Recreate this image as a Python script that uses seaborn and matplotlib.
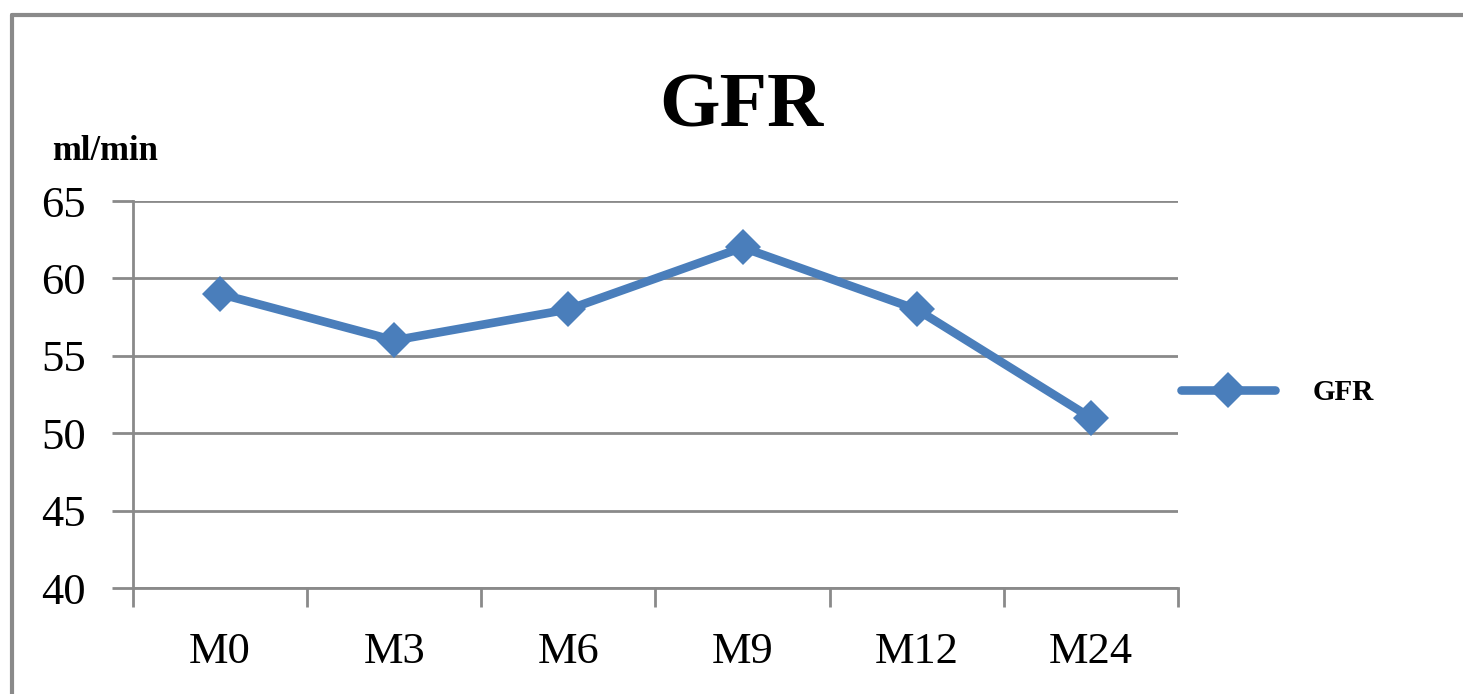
import matplotlib
matplotlib.use("Agg")
import matplotlib.pyplot as plt
import seaborn as sns
from matplotlib.lines import Line2D
from matplotlib.ticker import FixedLocator

months = ["M0", "M3", "M6", "M9", "M12", "M24"]
gfr = [59, 56, 58, 62, 58, 51]
y_ticks = [40, 45, 50, 55, 60, 65]

sns.set_style("white")
plt.rcParams["font.family"] = ["Liberation Serif", "DejaVu Serif"]
plt.rcParams["text.color"] = "black"
plt.rcParams["xtick.labelcolor"] = "black"
plt.rcParams["ytick.labelcolor"] = "black"

blue = "#4a7ebb"
grey = "#8a8a8a"

fig = plt.figure(figsize=(14.63, 6.94), dpi=100)
ax = fig.add_axes([0.0909, 0.1527, 0.7143, 0.5576])

sns.lineplot(x=months, y=gfr, ax=ax, color=blue, linewidth=6.2, marker="D",
             markersize=18, markeredgewidth=0, label="GFR", sort=False)

ax.set_xlim(-0.5, 5.5)
ax.set_ylim(40, 65)
ax.set_yticks(y_ticks)
ax.yaxis.grid(True, color=grey, linewidth=2)
ax.set_axisbelow(True)
ax.set_xticks(range(len(months)))
ax.set_xticklabels(months)
ax.xaxis.set_minor_locator(FixedLocator([i - 0.5 for i in range(len(months) + 1)]))
ax.tick_params(axis="x", which="major", length=0, pad=32, labelsize=32)
ax.tick_params(axis="x", which="minor", length=14, width=2, color=grey, direction="out", bottom=True)
ax.tick_params(axis="y", length=15, width=2, color=grey, direction="out", left=True, pad=19, labelsize=32)

for side in ["top", "right"]:
    ax.spines[side].set_visible(False)
for side in ["left", "bottom"]:
    ax.spines[side].set_color(grey)
    ax.spines[side].set_linewidth(2)

ax.set_xlabel("")
ax.set_ylabel("")

fig.text(0.507, 0.845, "GFR", ha="center", va="center", fontsize=56, fontweight="bold")
fig.text(0.0355, 0.782, "ml/min", ha="left", va="center", fontsize=25, fontweight="bold")

leg = ax.legend(loc="center left", bbox_to_anchor=(0.978, 0.506), frameon=False,
                handlelength=3.2, handletextpad=1.3, prop={"size": 21, "weight": "bold"})

# outer chart border (top and left visible)
fig.add_artist(Line2D([0.0082, 1.0], [0.9784, 0.9784], color=grey, linewidth=3, transform=fig.transFigure))
fig.add_artist(Line2D([0.0082, 0.0082], [0.0, 0.9784], color=grey, linewidth=3, transform=fig.transFigure))

fig.savefig("out.png", dpi=100)
